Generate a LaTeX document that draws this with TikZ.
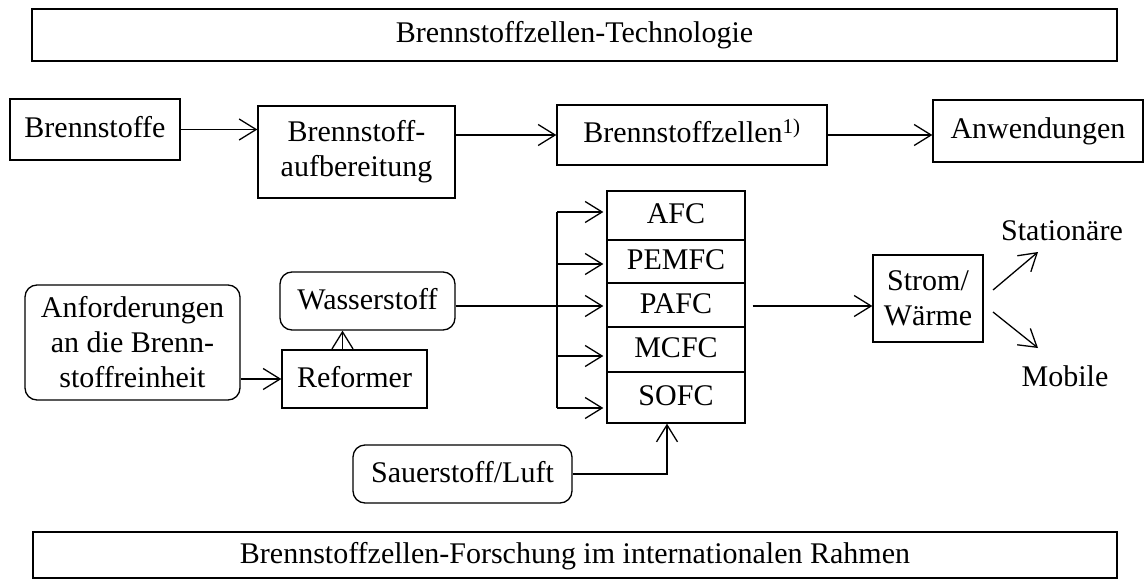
\documentclass[tikz,border=0pt]{standalone}
\usepackage{fontspec}
\setmainfont{Liberation Serif}
\usetikzlibrary{arrows.meta}
\begin{document}
\begin{tikzpicture}[x=1pt,y=-1pt,
  every node/.style={font=\fontsize{30}{35}\selectfont, inner sep=0pt, align=center},
  sl/.style={text height=20pt, text depth=4pt},
  box/.style={draw, line width=1.3pt, minimum width=#1},
  rbox/.style={draw, line width=1.3pt, rounded corners=12pt, minimum width=#1},
  fc/.style={draw, line width=1.3pt, minimum width=138pt, sl},
  arr/.style={line width=1.3pt, -{Straight Barb[length=17pt,width=21pt,line width=1.3pt]}},
  ln/.style={line width=1.3pt}]
\useasboundingbox (0,0) rectangle (1145,580);
% title boxes
\node[box=1085pt, minimum height=52pt, sl] (top) at (574.5,35) {Brennstoffzellen-Technologie};
\node[box=1084pt, minimum height=46pt, sl] (bot) at (575,555) {Brennstoffzellen-Forschung im internationalen Rahmen};
% first row
\node[box=170pt, minimum height=61pt, sl] (bs) at (95,129.5) {Brennstoffe};
\node[box=197pt, minimum height=92pt] (auf) at (356.5,152) {Brennstoff-\\aufbereitung};
\node[box=270pt, minimum height=60pt, sl] (bz) at (692,135) {Brennstoffzellen\textsuperscript{1)}};
\node[box=210pt, minimum height=62pt, sl] (anw) at (1038,131) {Anwendungen};
\draw[arr] (bs.east) -- (bs.east -| auf.west);
\draw[arr] (auf.east |- bz.west) -- (bz.west);
\draw[arr] (bz.east) -- (bz.east -| anw.west);
% fuel cell stack
\node[fc, minimum height=49pt] (afc) at (676,215.5) {AFC};
\node[fc, minimum height=43pt] (pemfc) at (676,261.5) {PEMFC};
\node[fc, minimum height=44pt] (pafc) at (676,305) {PAFC};
\node[fc, minimum height=45pt] (mcfc) at (676,349.5) {MCFC};
\node[fc, minimum height=51pt] (sofc) at (676,397.5) {SOFC};
% left part
\node[rbox=215pt, minimum height=115pt] (anf) at (132.5,342.5) {Anforderungen\\an die Brenn-\\stoffreinheit};
\node[rbox=175pt, minimum height=58pt, sl] (was) at (367.5,301) {Wasserstoff};
\node[box=145pt, minimum height=58pt, sl] (ref) at (354.5,379) {Reformer};
\node[rbox=219pt, minimum height=58pt, sl] (sau) at (462.5,474) {Sauerstoff/Luft};
\draw[arr] (anf.east |- ref.west) -- (ref.west);
\draw[arr] ([xshift=-12pt]ref.north) -- ([xshift=-12pt]ref.north |- was.south);
% bus
\coordinate (b1) at (557,212);
\coordinate (b2) at (557,264);
\coordinate (b3) at (557,306);
\coordinate (b4) at (557,356);
\coordinate (b5) at (557,408);
\draw[ln] (b1) -- (b5);
\draw[arr] (b1) -- ([xshift=-3pt]b1 -| afc.west);
\draw[arr] (b2) -- ([xshift=-3pt]b2 -| pemfc.west);
\draw[arr] (was.east |- b3) -- ([xshift=-3pt]b3 -| pafc.west);
\draw[arr] (b4) -- ([xshift=-3pt]b4 -| mcfc.west);
\draw[arr] (b5) -- ([xshift=-3pt]b5 -| sofc.west);
\draw[arr] (sau.east) -| ([xshift=-9pt]sofc.south);
% right part
\node[box=110pt, minimum height=87pt] (strom) at (928,298.5) {Strom/\\Wärme};
\node[sl] (stat) at (1062,232) {Stationäre};
\node[sl] (mob) at (1065,378) {Mobile};
\draw[arr] ([xshift=7pt]pafc.east |- b3) -- (b3 -| strom.west);
\coordinate (s1) at (993,290);
\coordinate (s2) at (1038,252);
\coordinate (m1) at (993,312);
\coordinate (m2) at (1038,348);
\draw[arr] (s1) -- (s2);
\draw[arr] (m1) -- (m2);
\end{tikzpicture}
\end{document}
